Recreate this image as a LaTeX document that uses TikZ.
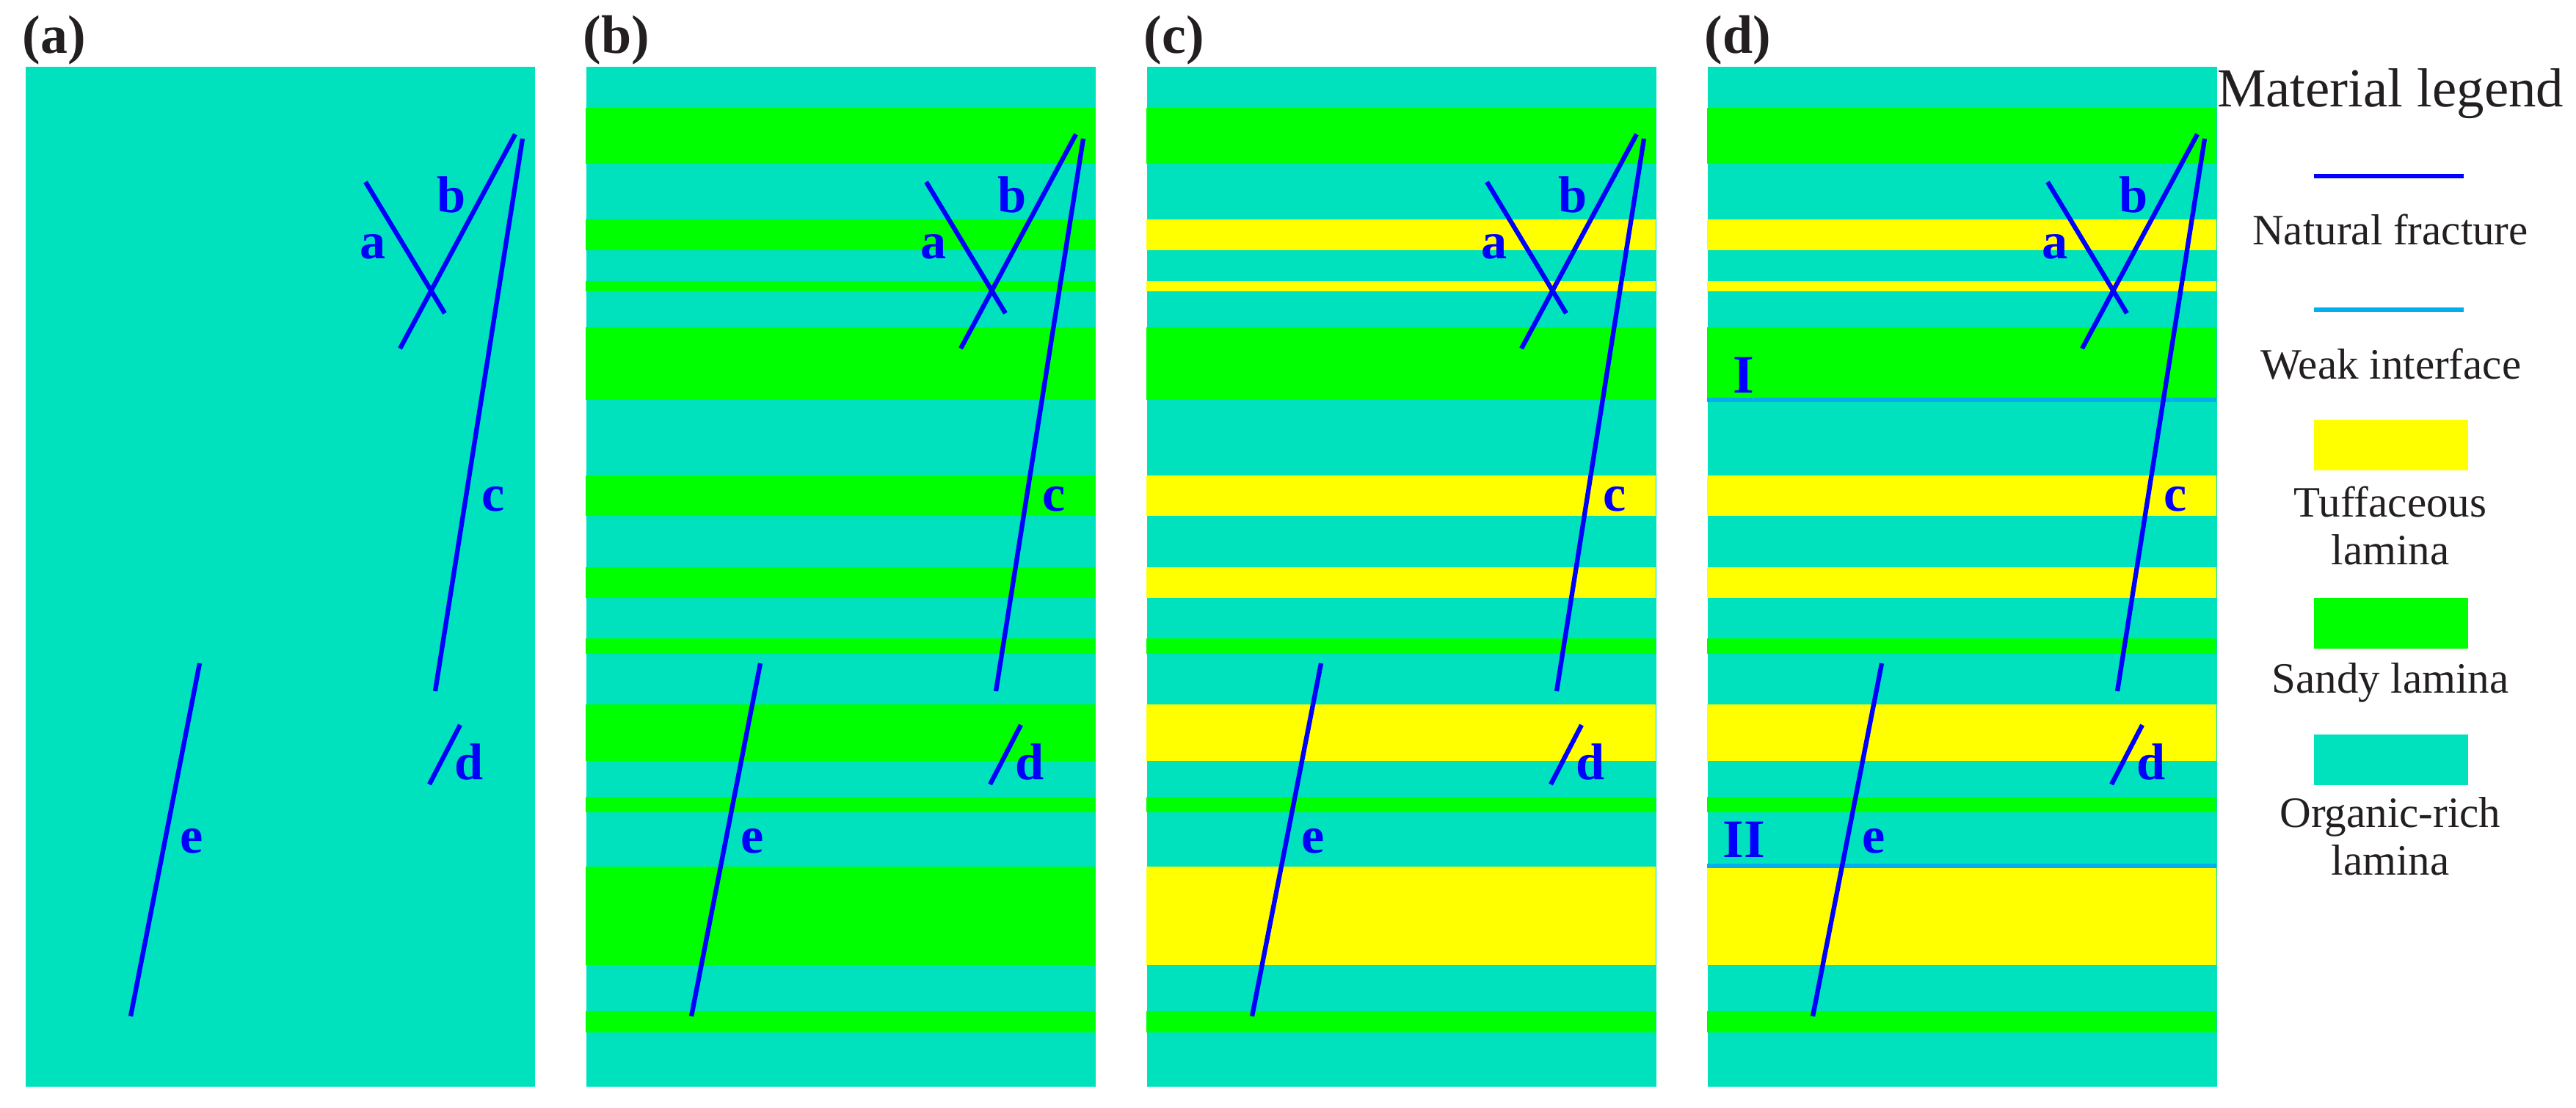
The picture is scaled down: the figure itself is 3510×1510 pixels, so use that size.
\documentclass[tikz,border=0pt]{standalone}
\usepackage{fontspec}
\setmainfont{Liberation Serif}
\usetikzlibrary{positioning}

\begin{document}
\begin{tikzpicture}[x=0.01cm, y=-0.01cm,
  panel/.style={fill=zOrg, draw=none, minimum width=6.94cm, minimum height=13.89cm, anchor=north west, inner sep=0pt},
  swatch/.style={draw=none, minimum width=2.1cm, minimum height=0.69cm, anchor=north west, inner sep=0pt},
  tag/.style={font=\fontsize{21}{21}\selectfont\bfseries, text=zTxt, anchor=base west, inner sep=0pt},
  flab/.style={font=\fontsize{20}{20}\selectfont\bfseries, text=zFrac, anchor=base, inner sep=0pt},
  wlab/.style={font=\fontsize{21}{21}\selectfont\bfseries, text=zFrac, anchor=base, inner sep=0pt},
  frac/.style={draw=zFrac, line width=0.063cm},
  weak/.style={draw=zWeak, line width=0.065cm},
  leg/.style={font=\fontsize{16.8}{18.5}\selectfont, text=zTxt, align=center, anchor=base, inner sep=0pt},
]
\definecolor{zOrg}{HTML}{00E1BE}\definecolor{zSand}{HTML}{00FF00}\definecolor{zTuff}{HTML}{FFFF00}
\definecolor{zFrac}{HTML}{0000FF}\definecolor{zWeak}{HTML}{00AEEF}\definecolor{zTxt}{HTML}{231F20}
\useasboundingbox (0,0) rectangle (3510,1510);
% ---- panels ----
\foreach \p [count=\i from 0] in {a,b,c,d}
  \node[panel] (P\p) at (34+764*\i,90) {};
% ---- laminae: (b) sandy only, (c) and (d) sandy + tuffaceous ----
\foreach \t/\b/\c in {147/223.5/zSand, 299/341/zTuff, 383/397/zTuff, 446/545/zSand,
    648/703/zTuff, 773/815/zTuff, 870/891/zSand, 960/1037/zTuff, 1086/1107/zSand,
    1181/1315/zTuff, 1378/1407/zSand} {
  \fill[zSand] (798,\t) rectangle (1492,\b);
  \fill[\c] (1562,\t) rectangle (2256,\b);
  \fill[\c] (2326,\t) rectangle (3020,\b);
}
% weak interfaces in (d)
\draw[weak] (2326,545) -- (3020,545);
\draw[weak] (2326,1180) -- (3020,1180);
\node[wlab] (wI) at (2376,536) {I};
\node[wlab] (wII) at (2376,1168) {II};
% ---- natural fractures, same in every panel ----
\foreach \p [count=\i from 0] in {a,b,c,d} {
\begin{scope}[shift={(34+764*\i,0)}]
  \draw[frac] (464,248) -- (572,427);
  \draw[frac] (668,183) -- (511,475);
  \draw[frac] (678,189) -- (559,942);
  \draw[frac] (593,988) -- (551,1069);
  \draw[frac] (238,904) -- (144,1385);
  \node[flab] (fa-\p) at (474,353) {a};
  \node[flab] (fb-\p) at (581,290) {b};
  \node[flab] (fc-\p) at (638,697) {c};
  \node[flab] (fd-\p) at (605,1062) {d};
  \node[flab] (fe-\p) at (227,1162) {e};
  \node[tag] (T\p) at (-4,73) {(\p)};
\end{scope}
}
% ---- legend ----
\node[leg, font=\fontsize{21.3}{21.3}\selectfont] (LT) at (3257,146) {Material legend};
\draw[frac] (3153,240) -- (3357,240);
\node[leg] (L1) at (3257,334) {Natural fracture};
\draw[weak] (3153,422) -- (3357,422);
\node[leg] (L2) at (3258,517) {Weak interface};
\node[swatch, fill=zTuff] (S1) at (3152,571) {};
\node[leg, anchor=north] (L3) at (3257,662) {Tuffaceous\\lamina};
\node[swatch, fill=zSand] (S2) at (3152,814) {};
\node[leg] (L4) at (3257,944) {Sandy lamina};
\node[swatch, fill=zOrg] (S3) at (3152,1000) {};
\node[leg, anchor=north] (L5) at (3257,1086) {Organic-rich\\lamina};
\end{tikzpicture}
\end{document}
